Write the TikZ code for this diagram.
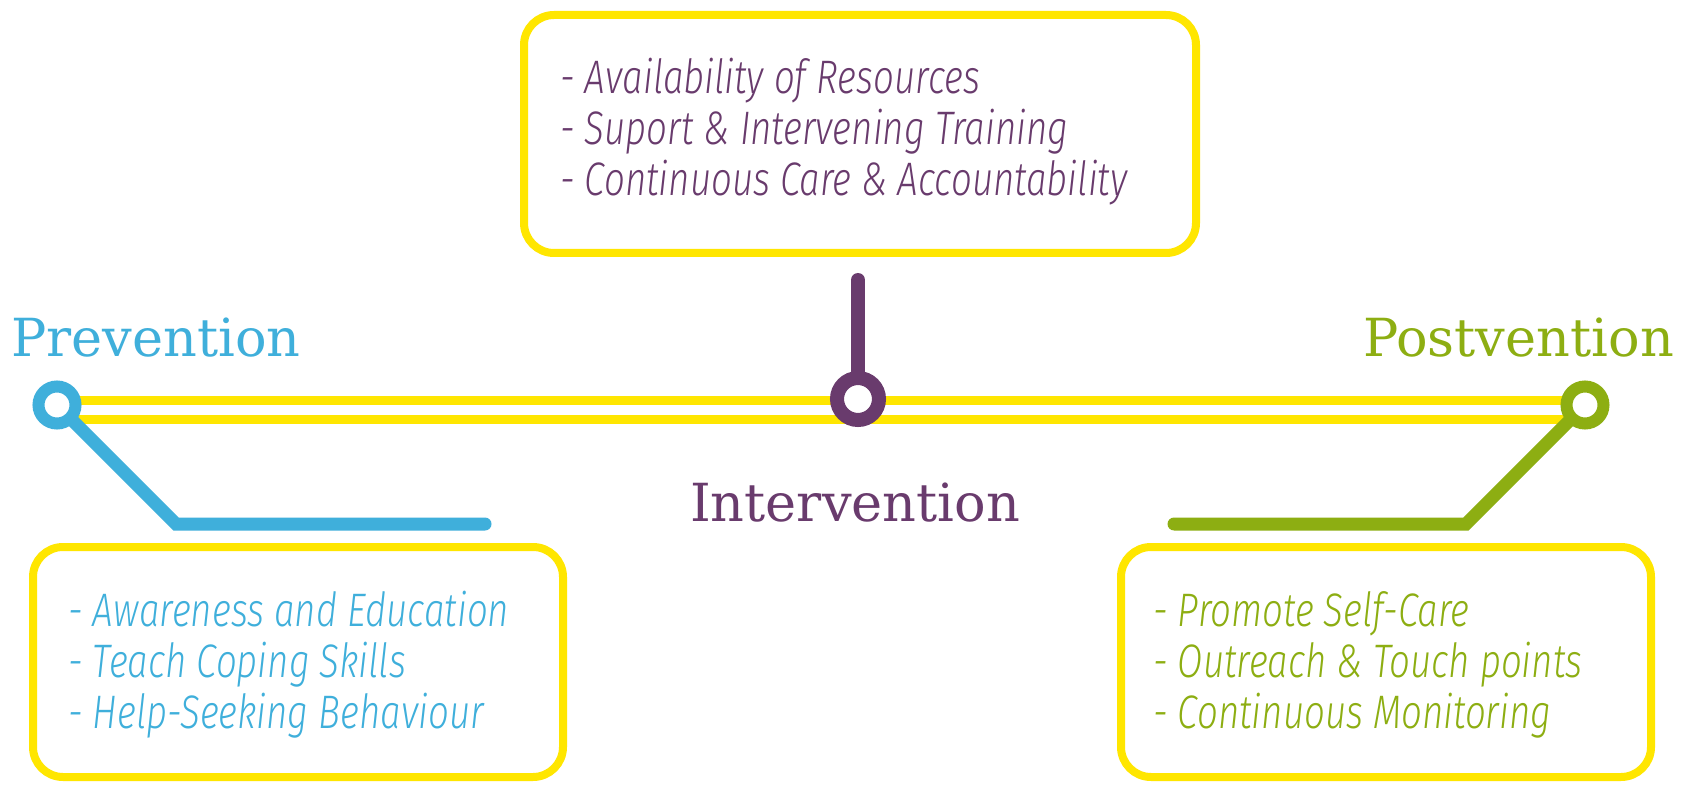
\documentclass[tikz,border=0pt]{standalone}
\usepackage{fontspec}
\newfontfamily\headfont{DejaVu Serif}
\newfontfamily\itemfont{Fira Sans}[UprightFont={* Light Italic},FakeStretch=0.78]
\definecolor{railyellow}{HTML}{FFE600}
\definecolor{prevblue}{HTML}{3FAFDB}
\definecolor{intpurple}{HTML}{693B6D}
\definecolor{postgreen}{HTML}{8DAE12}

\begin{document}
\begin{tikzpicture}[x=1pt,y=-1pt,
  rail/.style={draw=railyellow,line width=9pt},
  branch/.style={draw=#1,line width=13pt,line cap=round},
  hub/.style={circle,draw=#1,fill=white,line width=12pt,minimum size=37pt,inner sep=0pt},
  bighub/.style={circle,draw=#1,fill=white,line width=14pt,minimum size=42pt,inner sep=0pt},
  panel/.style={draw=railyellow,line width=8pt,rounded corners=30pt,inner sep=0pt,fill=white},
  heading/.style={text=#1,inner sep=0pt,font=\headfont\fontsize{52.5}{52.5}\selectfont},
  item/.style={text=#1,inner sep=0pt,anchor=base west,font=\itemfont\fontsize{47}{51}\selectfont}
]
\useasboundingbox[fill=white] (0,0) rectangle (1692,786);

% hub positions along the rail
\coordinate (prevpos) at (57,405);
\coordinate (intpos) at (858,399);
\coordinate (postpos) at (1585,405);

% double yellow rail
\draw[rail] ([yshift=5pt]prevpos) -- ([yshift=5pt]postpos);
\draw[rail] ([yshift=-14pt]prevpos) -- ([yshift=-14pt]postpos);

% branches leading to the panels
\coordinate (prevbend) at (176,524);
\coordinate (prevend) at (485,524);
\coordinate (postbend) at (1466,524);
\coordinate (postend) at (1174,524);
\coordinate (stemtop) at (858,280);

\draw[branch=prevblue] (prevpos) -- (prevbend) -- (prevend);
\draw[branch=postgreen] (postpos) -- (postbend) -- (postend);
\draw[branch=intpurple,line width=14pt] (intpos) -- (stemtop);

% hubs
\node[hub=prevblue] (prev) at (prevpos) {};
\node[bighub=intpurple] (int) at (intpos) {};
\node[hub=postgreen] (post) at (postpos) {};

% headings
\node[heading=prevblue,anchor=base west] (prevlabel) at (11,356) {Prevention};
\node[heading=intpurple,anchor=base west] (intlabel) at (690,521) {Intervention};
\node[heading=postgreen,anchor=base east] (postlabel) at (1674,356) {Postvention};

% panels
\node[panel,minimum width=672pt,minimum height=238pt] (intpanel) at (860,134) {};
\node[panel,minimum width=530pt,minimum height=230pt] (prevpanel) at (298,662) {};
\node[panel,minimum width=530pt,minimum height=230pt] (postpanel) at (1386,662) {};

% panel contents
\node[item=intpurple] (i1) at (560,94) {- Availability of Resources};
\node[item=intpurple] (i2) at (560,145) {- Suport \& Intervening Training};
\node[item=intpurple] (i3) at (560,196) {- Continuous Care \& Accountability};

\node[item=prevblue] (p1) at (68,626) {- Awareness and Education};
\node[item=prevblue] (p2) at (68,677) {- Teach Coping Skills};
\node[item=prevblue] (p3) at (68,728) {- Help-Seeking Behaviour};

\node[item=postgreen] (q1) at (1153,626) {- Promote Self-Care};
\node[item=postgreen] (q2) at (1153,677) {- Outreach \& Touch points};
\node[item=postgreen] (q3) at (1153,728) {- Continuous Monitoring};
\end{tikzpicture}
\end{document}
